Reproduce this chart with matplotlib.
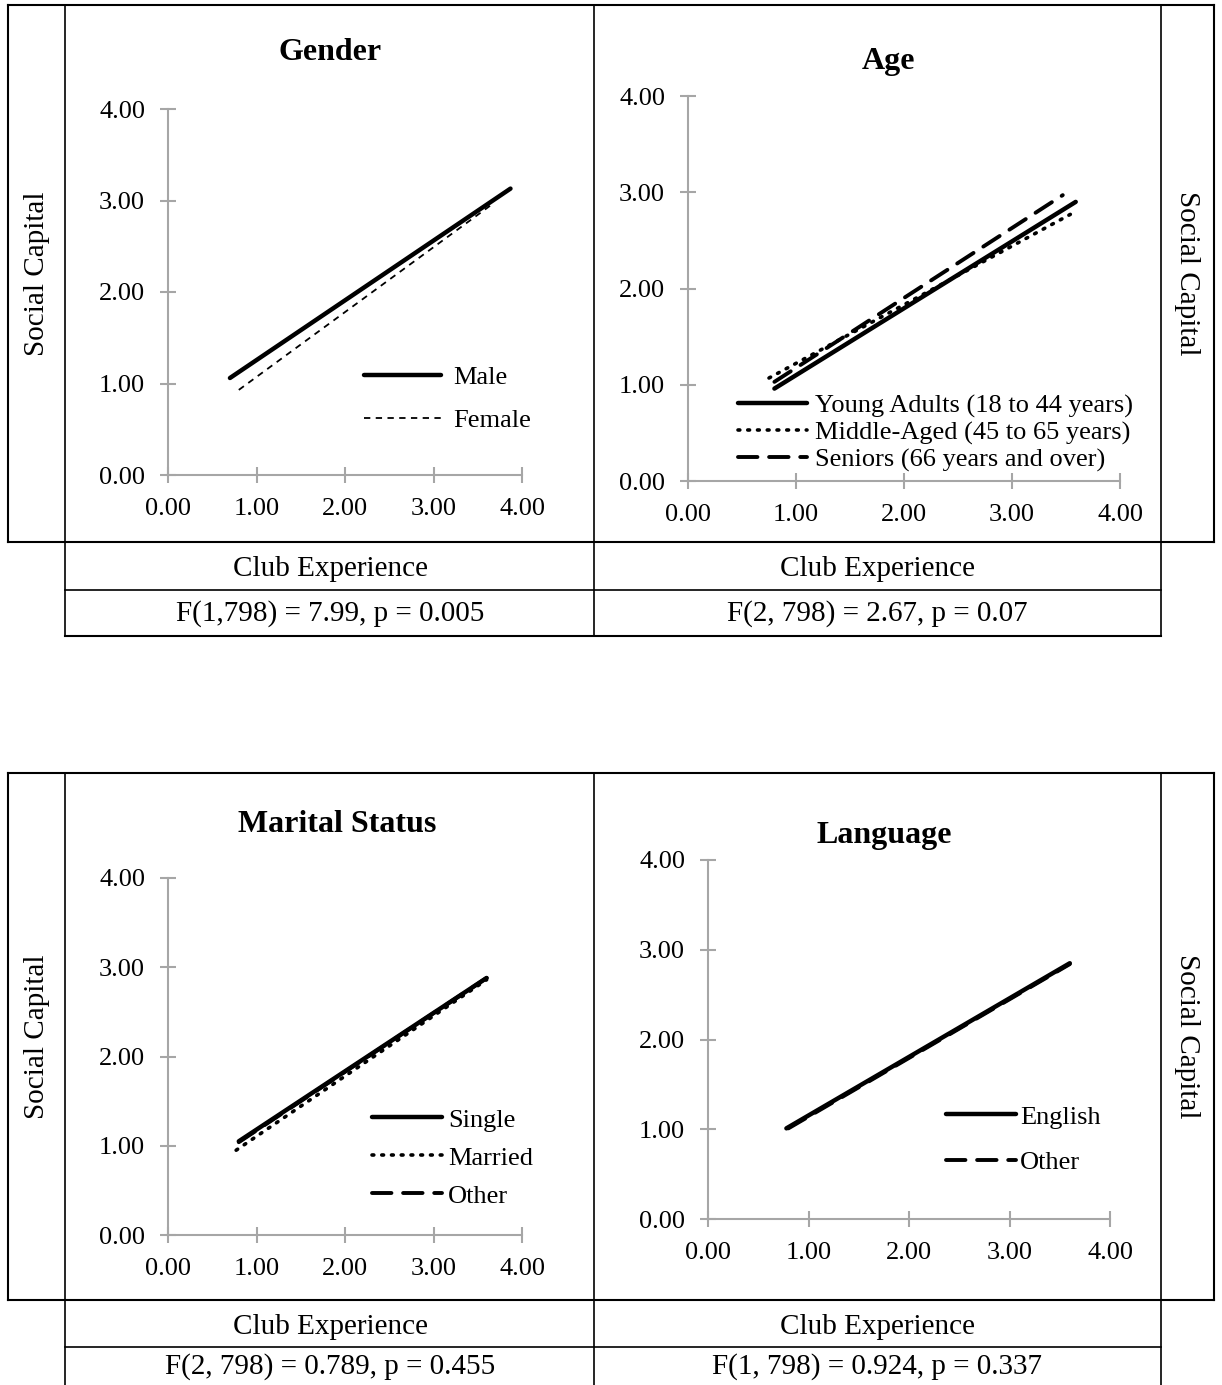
import matplotlib.pyplot as plt
from matplotlib.lines import Line2D

plt.rcParams['font.family'] = ['Liberation Serif', 'DejaVu Serif']

# data: start/end points of each fitted line
gender_labels = ['Male', 'Female']
gender_x = [[0.70, 3.87], [0.80, 3.65]]
gender_y = [[1.06, 3.13], [0.93, 2.95]]

age_labels = ['Young Adults (18 to 44 years)', 'Middle-Aged (45 to 65 years)',
              'Seniors (66 years and over)']
age_x = [[0.80, 3.59], [0.75, 3.54], [0.80, 3.47]]
age_y = [[0.96, 2.90], [1.07, 2.77], [1.03, 2.97]]

marital_labels = ['Single', 'Married', 'Other']
marital_x = [[0.80, 3.60], [0.77, 3.60], [0.80, 3.60]]
marital_y = [[1.05, 2.88], [0.95, 2.86], [1.04, 2.88]]

language_labels = ['English', 'Other']
language_x = [[0.78, 3.60], [0.80, 3.60]]
language_y = [[1.01, 2.85], [1.01, 2.84]]

ticks = [0, 1, 2, 3, 4]
tick_labels = ['0.00', '1.00', '2.00', '3.00', '4.00']
stats_text = ['F(1,798) = 7.99, p = 0.005', 'F(2, 798) = 2.67, p = 0.07',
              'F(2, 798) = 0.789, p = 0.455', 'F(1, 798) = 0.924, p = 0.337']

W, H = 1222, 1385
fig = plt.figure(figsize=(W / 100, H / 100), dpi=100)


def px_axes(x0, x1, y0, y1):
    # x0..x1 left/right pixels, y0 bottom pixel, y1 top pixel
    return fig.add_axes([x0 / W, 1 - y0 / H, (x1 - x0) / W, (y0 - y1) / H])


def hline(x0, x1, y, lw=1.5):
    fig.add_artist(Line2D([x0 / W, x1 / W], [1 - y / H, 1 - y / H], color='black', lw=lw))


def vline(x, y0, y1, lw=1.5):
    fig.add_artist(Line2D([x / W, x / W], [1 - y0 / H, 1 - y1 / H], color='black', lw=lw))


def fig_text(x, y, s, **kw):
    fig.text(x / W, 1 - y / H, s, ha='center', va='center', **kw)


def style_axes(ax):
    ax.set_xlim(0, 4)
    ax.set_ylim(0, 4)
    for side in ['top', 'right']:
        ax.spines[side].set_visible(False)
    for side in ['left', 'bottom']:
        ax.spines[side].set_color('#a6a6a6')
        ax.spines[side].set_linewidth(1.5)
    ax.set_xticks(ticks)
    ax.set_xticklabels(tick_labels)
    ax.set_yticks(ticks)
    ax.set_yticklabels(tick_labels)
    ax.tick_params(direction='inout', length=11, width=1.5, color='#a6a6a6',
                   labelsize=19, pad=11)
    ax.patch.set_alpha(0)


def add_legend(ax, x, y, hl, tp, ls):
    ax.legend(loc='center left', bbox_to_anchor=(x, y), frameon=False, fontsize=19,
              handlelength=hl, handletextpad=tp, labelspacing=ls,
              borderpad=0, borderaxespad=0)


styles = {
    'solid': dict(linestyle='-', lw=3.2, color='black', solid_capstyle='round'),
    'thin_dash': dict(linestyle=(0, (3.5, 3)), lw=1.3, color='black'),
    'dot': dict(linestyle=(0, (0.5, 2.2)), lw=2.6, color='black', dash_capstyle='round'),
    'dash': dict(linestyle=(0, (5, 3)), lw=2.8, color='black', dash_capstyle='round'),
}

# Gender
ax1 = px_axes(168, 522, 475, 109)
for xs, ys, lab, st in zip(gender_x, gender_y, gender_labels, ['solid', 'thin_dash']):
    ax1.plot(xs, ys, label=lab, **styles[st])
style_axes(ax1)
add_legend(ax1, 0.555, 0.208, 2.9, 0.45, 0.75)

# Age
ax2 = px_axes(688, 1120, 481, 96)
for xs, ys, lab, st in zip(age_x, age_y, age_labels, ['solid', 'dot', 'dash']):
    ax2.plot(xs, ys, label=lab, **styles[st])
style_axes(ax2)
add_legend(ax2, 0.116, 0.125, 2.6, 0.3, 0.12)

# Marital Status
ax3 = px_axes(168, 522, 1235, 878)
for xs, ys, lab, st in zip(marital_x, marital_y, marital_labels, ['solid', 'dot', 'dash']):
    ax3.plot(xs, ys, label=lab, **styles[st])
style_axes(ax3)
add_legend(ax3, 0.576, 0.216, 2.65, 0.23, 0.55)

# Language
ax4 = px_axes(708, 1110, 1219, 860)
for xs, ys, lab, st in zip(language_x, language_y, language_labels, ['solid', 'dash']):
    ax4.plot(xs, ys, label=lab, **styles[st])
style_axes(ax4)
add_legend(ax4, 0.592, 0.221, 2.65, 0.15, 0.83)

# panel titles
fig_text(330, 52, 'Gender', fontsize=23, fontweight='bold')
fig_text(888, 62, 'Age', fontsize=23, fontweight='bold')
fig_text(337, 824, 'Marital Status', fontsize=23, fontweight='bold')
fig_text(884, 836, 'Language', fontsize=23, fontweight='bold')

# table frames
for top, mid, low, bot, draw_bottom in [(5, 542, 590, 636, True), (773, 1300, 1347, 1385, False)]:
    hline(8, 1214, top)
    hline(8, 1214, mid)
    hline(65, 1161, low, lw=1.2)
    if draw_bottom:
        hline(65, 1161, bot)
    vline(8, top, mid)
    vline(1214, top, mid)
    vline(1161, top, bot, lw=1.2)
    vline(65, top, bot, lw=1.2)
    vline(594, top, bot, lw=1.2)
    fig_text(330, (mid + low) / 2 + 3, 'Club Experience', fontsize=21)
    fig_text(877, (mid + low) / 2 + 3, 'Club Experience', fontsize=21)
    fig_text(37, (top + mid) / 2, 'Social Capital', fontsize=21, rotation=90)
    fig_text(1187, (top + mid) / 2, 'Social Capital', fontsize=21, rotation=270)

fig_text(330, 614, stats_text[0], fontsize=21)
fig_text(877, 614, stats_text[1], fontsize=21)
fig_text(330, 1367, stats_text[2], fontsize=21)
fig_text(877, 1367, stats_text[3], fontsize=21)

fig.savefig('out.png', dpi=100, facecolor='white')
